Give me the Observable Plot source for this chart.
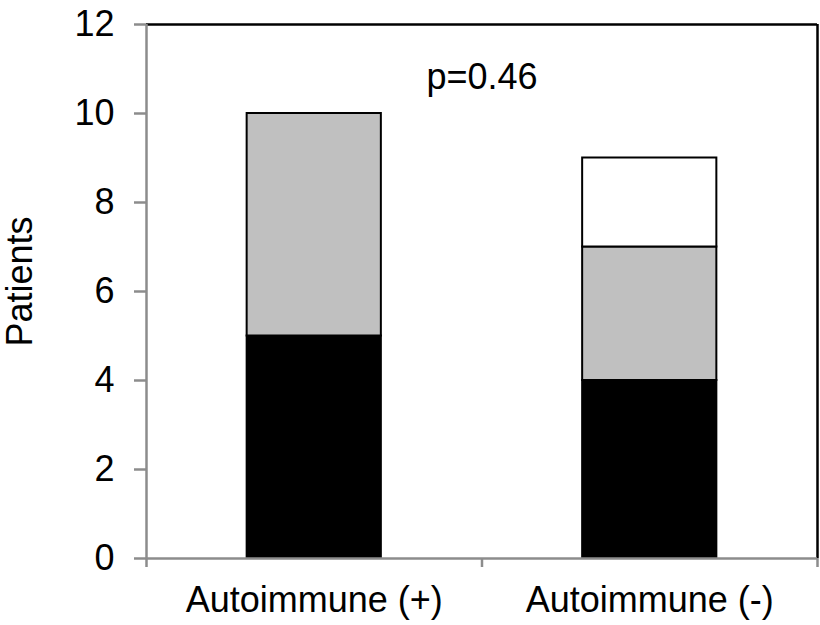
<!DOCTYPE html>
<html>
<head>
<meta charset="utf-8">
<script src="https://cdn.jsdelivr.net/npm/d3@7"></script>
<script src="https://cdn.jsdelivr.net/npm/@observablehq/plot@0.6"></script>
<style>
  html, body { margin: 0; padding: 0; background: #fff; }
  #chart svg { display: block; }
</style>
</head>
<body>
<div id="chart"></div>
<script>
// ---- Data ----
const categories = ["Autoimmune (+)", "Autoimmune (-)"];
const blackCounts = [5, 4];
const grayCounts = [5, 3];
const whiteCounts = [0, 2];
const seriesColors = ["#000000", "#c0c0c0", "#ffffff"];
const yTicks = [0, 2, 4, 6, 8, 10, 12];
const yLabel = "Patients";
const pValueText = "p=0.46";
const pValueY = 10.8;

// build stacked segments (bottom to top: black, gray, white)
const series = [blackCounts, grayCounts, whiteCounts];
const rows = [];
categories.forEach((cat, i) => {
  let cum = 0;
  series.forEach((vals, s) => {
    const v = vals[i];
    if (v > 0) rows.push({cat, i, y1: cum, y2: cum + v, fill: seriesColors[s]});
    cum += v;
  });
});

const axisGray = "#8c8c8c";
const font = "'Liberation Sans', Arial, sans-serif";
const fs = 36;

const chart = Plot.plot({
  width: 820,
  height: 625,
  marginLeft: 146,
  marginRight: 3,
  marginTop: 24,
  marginBottom: 67,
  style: {fontFamily: font, fontSize: fs + "px", background: "#fff", color: "#000", overflow: "visible"},
  x: {domain: [0, categories.length], axis: null},
  y: {domain: [0, 12], axis: null},
  color: {type: "identity"},
  marks: [
    Plot.rect(rows, {
      x1: d => d.i + 0.3, x2: d => d.i + 0.7,
      y1: "y1", y2: "y2",
      fill: "fill", stroke: "#000", strokeWidth: 2
    }),
    Plot.ruleY([12], {stroke: "#000", strokeWidth: 2.5}),
    Plot.ruleX([categories.length], {stroke: "#000", strokeWidth: 2.5}),
    Plot.ruleX([0], {stroke: axisGray, strokeWidth: 2.5}),
    Plot.ruleY([0], {stroke: axisGray, strokeWidth: 2.5}),
    Plot.axisY({
      ticks: yTicks, tickSize: 12, tickPadding: 20,
      stroke: axisGray, strokeWidth: 2.5, fill: "#000",
      fontSize: fs, tickFormat: d => String(d), label: null
    }),
    Plot.text([yLabel], {
      frameAnchor: "left", textAnchor: "middle", lineAnchor: "middle",
      rotate: -90, dx: -126, dy: -10,
      text: d => d, fontSize: fs, fill: "#000"
    }),
    Plot.axisX({
      ticks: d3.range(categories.length + 1), tickSize: 9,
      stroke: axisGray, strokeWidth: 2.5, tickFormat: () => "", label: null
    }),
    Plot.axisX({
      ticks: categories.map((c, i) => i + 0.5), tickSize: 0, tickPadding: 28,
      fill: "#000", fontSize: fs,
      tickFormat: d => categories[Math.floor(d)], label: null
    }),
    Plot.text([pValueText], {
      x: categories.length / 2, y: pValueY, text: d => d,
      fontSize: fs, fill: "#000"
    })
  ]
});
document.getElementById("chart").appendChild(chart);
</script>
</body>
</html>
